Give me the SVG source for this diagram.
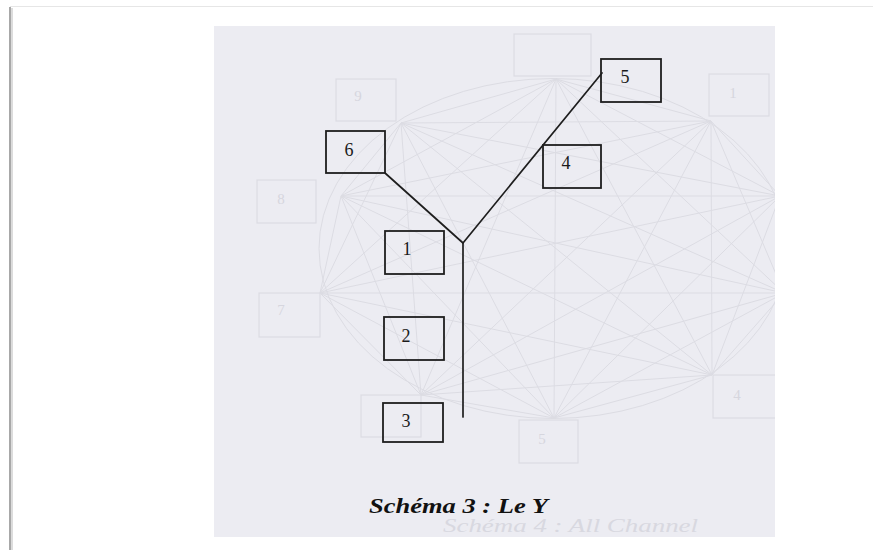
<svg xmlns="http://www.w3.org/2000/svg" width="873" height="550" viewBox="0 0 873 550">
  <style>
    .node rect { fill: none; stroke: #1e1e1e; stroke-width: 1.8; }
    .node text { font-family: "Liberation Serif", "Times New Roman", serif; font-size: 18px; fill: #1a1a1a; text-anchor: middle; }
    .conn { stroke: #1e1e1e; stroke-width: 1.7; fill: none; stroke-linecap: round; stroke-linejoin: round; }
    .ghost { stroke: #dcdce3; stroke-width: 1; fill: none; }
    .ghostbox { stroke: #dcdce3; stroke-width: 1.2; fill: none; }
    .ghosttxt { font-family: "Liberation Serif", "Times New Roman", serif; font-size: 15px; fill: #d6d6de; text-anchor: middle; }
    .caption { font-family: "Liberation Serif", "Times New Roman", serif; font-size: 20px; font-weight: bold; font-style: italic; fill: #111111; }
  </style>
  <defs>
    <clipPath id="page">
      <rect x="214" y="26" width="561" height="511"/>
    </clipPath>
  </defs>

  <!-- window frame -->
  <rect x="0" y="0" width="873" height="550" fill="#ffffff"/>
  <line x1="10" y1="6.5" x2="873" y2="6.5" stroke="#e6e6e6" stroke-width="1"/>
  <line x1="10" y1="7" x2="10" y2="550" stroke="#a8a8a8" stroke-width="2"/>
  <line x1="12" y1="8" x2="12" y2="550" stroke="#dcdcdc" stroke-width="2"/>

  <!-- scanned page -->
  <rect x="214" y="26" width="561" height="511" fill="#ececf2"/>

  <!-- bleed-through of the other side of the page -->
  <g id="ghost" clip-path="url(#page)">
    <ellipse cx="553" cy="248.5" rx="234" ry="170" class="ghost"/>
    <path class="ghost" d="
      M556,79 L711,121 M556,79 L780,196 M556,79 L784,293 M556,79 L712,375 M556,79 L554,418 M556,79 L421,395 M556,79 L320,293 M556,79 L341,196 M556,79 L401,123
      M711,121 L780,196 M711,121 L784,293 M711,121 L712,375 M711,121 L554,418 M711,121 L421,395 M711,121 L320,293 M711,121 L341,196 M711,121 L401,123
      M780,196 L784,293 M780,196 L712,375 M780,196 L554,418 M780,196 L421,395 M780,196 L320,293 M780,196 L341,196 M780,196 L401,123
      M784,293 L712,375 M784,293 L554,418 M784,293 L421,395 M784,293 L320,293 M784,293 L341,196 M784,293 L401,123
      M712,375 L554,418 M712,375 L421,395 M712,375 L320,293 M712,375 L341,196 M712,375 L401,123
      M554,418 L421,395 M554,418 L320,293 M554,418 L341,196 M554,418 L401,123
      M421,395 L320,293 M421,395 L341,196 M421,395 L401,123
      M320,293 L341,196 M320,293 L401,123
      M341,196 L401,123"/>
    <rect class="ghostbox" x="514" y="34" width="77" height="42"/>
    <rect class="ghostbox" x="336" y="79" width="60" height="42"/>
    <rect class="ghostbox" x="709" y="74" width="60" height="42"/>
    <rect class="ghostbox" x="257" y="180" width="59" height="43"/>
    <rect class="ghostbox" x="259" y="293" width="61" height="44"/>
    <rect class="ghostbox" x="361" y="395" width="60" height="42"/>
    <rect class="ghostbox" x="519" y="420" width="59" height="43"/>
    <rect class="ghostbox" x="713" y="375" width="70" height="43"/>
    <text class="ghosttxt" x="358" y="101">9</text>
    <text class="ghosttxt" x="733" y="98">1</text>
    <text class="ghosttxt" x="281" y="204">8</text>
    <text class="ghosttxt" x="281" y="315">7</text>
    <text class="ghosttxt" x="542" y="444">5</text>
    <text class="ghosttxt" x="737" y="400">4</text>
    <text x="443" y="532" textLength="255" lengthAdjust="spacingAndGlyphs" style="font-family:'Liberation Serif','Times New Roman',serif;font-size:18px;font-style:italic;fill:#d8d8e0">Schéma 4 : All Channel</text>
  </g>

  <!-- connectors -->
  <g id="connectors">
    <polyline class="conn" points="385,173 463,243 602,73"/>
    <line class="conn" x1="463" y1="243" x2="463" y2="417"/>
  </g>

  <!-- nodes -->
  <g id="node-5" class="node">
    <rect x="601" y="59" width="60" height="43"/>
    <text x="625" y="83">5</text>
  </g>
  <g id="node-6" class="node">
    <rect x="326" y="131" width="59" height="42"/>
    <text x="349" y="156">6</text>
  </g>
  <g id="node-4" class="node">
    <rect x="543" y="145" width="58" height="43"/>
    <text x="566" y="169">4</text>
  </g>
  <g id="node-1" class="node">
    <rect x="385" y="231" width="59" height="43"/>
    <text x="407" y="255">1</text>
  </g>
  <g id="node-2" class="node">
    <rect x="384" y="317" width="60" height="43"/>
    <text x="406" y="342">2</text>
  </g>
  <g id="node-3" class="node">
    <rect x="383" y="403" width="60" height="39"/>
    <text x="406" y="427">3</text>
  </g>

  <!-- caption -->
  <text class="caption" x="369" y="513" textLength="179" lengthAdjust="spacingAndGlyphs">Schéma 3 : Le Y</text>
</svg>
